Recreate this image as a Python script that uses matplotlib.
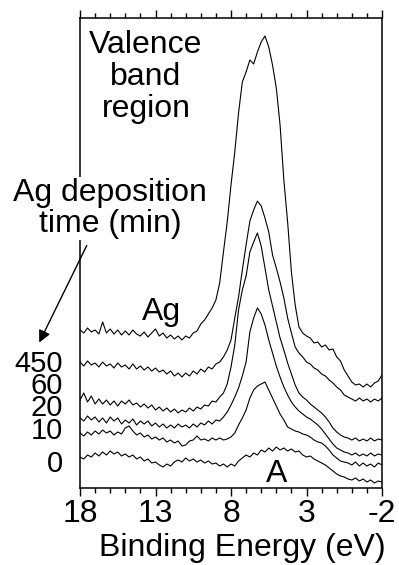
import numpy as np
import matplotlib
matplotlib.use("Agg")
import matplotlib.pyplot as plt
from matplotlib.ticker import MultipleLocator

plt.rcParams['font.family'] = ['Liberation Sans', 'DejaVu Sans']

# Binding energy grid (eV), 18 -> -2 in 0.25 eV steps
energy = np.linspace(18, -2, 81)

# Intensities (arbitrary units, stacked offsets as in the figure)
ag_film = [158, 155, 160, 156, 158, 154, 166, 155, 159, 154, 158, 153, 157, 153, 158, 154,
           152, 156, 151, 155, 159, 152, 155, 150, 153, 149, 152, 148, 152, 150, 155, 157,
           164, 168, 174, 180, 188, 205, 236, 266, 303, 336, 375, 406, 416, 428, 424, 436,
           446, 452, 441, 423, 400, 363, 308, 266, 216, 183, 161, 155, 152, 150, 145, 146,
           141, 143, 138, 139, 131, 127, 118, 112, 106, 103, 104, 101, 104, 101, 105, 107, 113]
t450 = [126, 122, 127, 123, 125, 121, 126, 122, 124, 120, 125, 121, 123, 119, 124, 119,
        122, 118, 121, 117, 120, 116, 118, 114, 117, 112, 115, 111, 115, 112, 117, 114,
        119, 116, 121, 119, 124, 126, 131, 138, 148, 170, 191, 218, 243, 267, 278, 287,
        282, 270, 256, 233, 220, 206, 190, 170, 155, 141, 135, 131, 126, 124, 120, 118,
        114, 112, 108, 105, 101, 98, 93, 91, 89, 87, 90, 87, 89, 86, 89, 87, 90]
t60 = [88, 95, 86, 92, 84, 89, 84, 88, 83, 87, 82, 87, 84, 88, 83, 85,
       81, 84, 80, 83, 78, 81, 77, 80, 76, 79, 75, 78, 76, 80, 77, 81,
       79, 83, 82, 87, 86, 91, 95, 104, 121, 143, 178, 198, 212, 236, 246, 255,
       242, 220, 198, 182, 166, 150, 138, 125, 114, 103, 95, 91, 88, 84, 81, 78,
       75, 71, 66, 60, 56, 53, 51, 50, 48, 50, 47, 49, 47, 50, 47, 49, 48]
t20 = [70, 67, 72, 68, 71, 66, 70, 65, 71, 67, 70, 64, 68, 65, 69, 63,
       67, 64, 67, 62, 65, 61, 64, 60, 63, 60, 64, 61, 63, 60, 64, 61,
       65, 63, 67, 64, 68, 67, 71, 76, 83, 91, 100, 112, 126, 156, 170, 180,
       174, 163, 148, 135, 122, 111, 101, 93, 86, 81, 77, 74, 71, 69, 66, 63,
       59, 54, 49, 44, 40, 38, 36, 35, 33, 35, 32, 34, 32, 35, 32, 34, 33]
t10 = [55, 52, 56, 53, 57, 54, 58, 55, 57, 53, 56, 54, 60, 62, 57, 53,
       55, 51, 53, 49, 51, 48, 50, 46, 48, 45, 47, 42, 43, 47, 48, 52,
       48, 49, 47, 50, 48, 50, 48, 49, 51, 55, 63, 70, 78, 90, 98, 102,
       104, 106, 98, 90, 82, 74, 68, 61, 59, 57, 56, 54, 53, 51, 48, 46,
       45, 42, 38, 33, 30, 27, 26, 25, 23, 26, 22, 25, 22, 24, 21, 25, 23]
t0 = [31, 29, 33, 31, 35, 32, 36, 33, 37, 34, 36, 32, 34, 31, 33, 29,
      31, 27, 29, 25, 26, 23, 21, 24, 22, 26, 28, 26, 30, 27, 29, 26,
      28, 25, 27, 24, 25, 22, 24, 21, 24, 22, 27, 30, 33, 31, 35, 33,
      38, 36, 40, 37, 41, 38, 40, 37, 39, 36, 37, 33, 31, 32, 29, 27,
      25, 23, 20, 17, 14, 12, 11, 9, 8, 10, 7, 9, 6, 8, 5, 7, 6]

series = [ag_film, t450, t60, t20, t10, t0]
time_labels = ["450", "60", "20", "10", "0"]
xticks = [18, 13, 8, 3, -2]

W, H = 399, 565
fig = plt.figure(figsize=(W / 100, H / 100), dpi=100)
ax = fig.add_axes([80 / W, (H - 488) / H, (382 - 80) / W, (488 - 18) / H])

for s in series:
    ax.plot(energy, s, color='black', lw=0.8)

ax.set_xlim(18, -2)
ax.set_ylim(0, 470)
ax.set_yticks([])
ax.set_xticks(xticks)
ax.set_xticklabels([str(t) for t in xticks])
ax.xaxis.set_minor_locator(MultipleLocator(1))
ax.tick_params(axis='x', which='both', direction='out', top=True, bottom=True,
               labeltop=False, width=1, labelsize=23, pad=2)
ax.tick_params(axis='x', which='major', length=6)
ax.tick_params(axis='x', which='minor', length=3.5)
for sp in ax.spines.values():
    sp.set_linewidth(1.1)


def px(x, y):
    return x / W, 1 - y / H


fs = 23
for txt, yb in [("Valence", 53), ("band", 85), ("region", 117)]:
    fig.text(*px(146, yb), txt, ha='center', va='baseline', fontsize=fs)

for txt, yb in [("Ag deposition", 201), ("time (min)", 232)]:
    fig.text(*px(110, yb), txt, ha='center', va='baseline', fontsize=fs,
             bbox=dict(facecolor='white', edgecolor='none', pad=1))

fig.text(*px(162, 320), "Ag", ha='center', va='baseline', fontsize=fs)
fig.text(*px(277, 482), "A", ha='center', va='baseline', fontsize=fs)

# stacked deposition-time labels (tightly packed as in the original)
fig.text(*px(63, 439), "\n".join(time_labels[:4]), ha='right', va='baseline',
         multialignment='right', fontsize=21, linespacing=0.75)
fig.text(*px(63, 472), time_labels[4], ha='right', va='baseline', fontsize=21)

fig.text(*px(242, 556), "Binding Energy (eV)", ha='center', va='baseline', fontsize=fs)

ax.annotate('', xy=(38, H - 345), xytext=(88, H - 243), xycoords='figure pixels',
            textcoords='figure pixels', annotation_clip=False,
            arrowprops=dict(arrowstyle='-|>', color='black', lw=1, mutation_scale=18))

fig.savefig('out.png', dpi=100)
